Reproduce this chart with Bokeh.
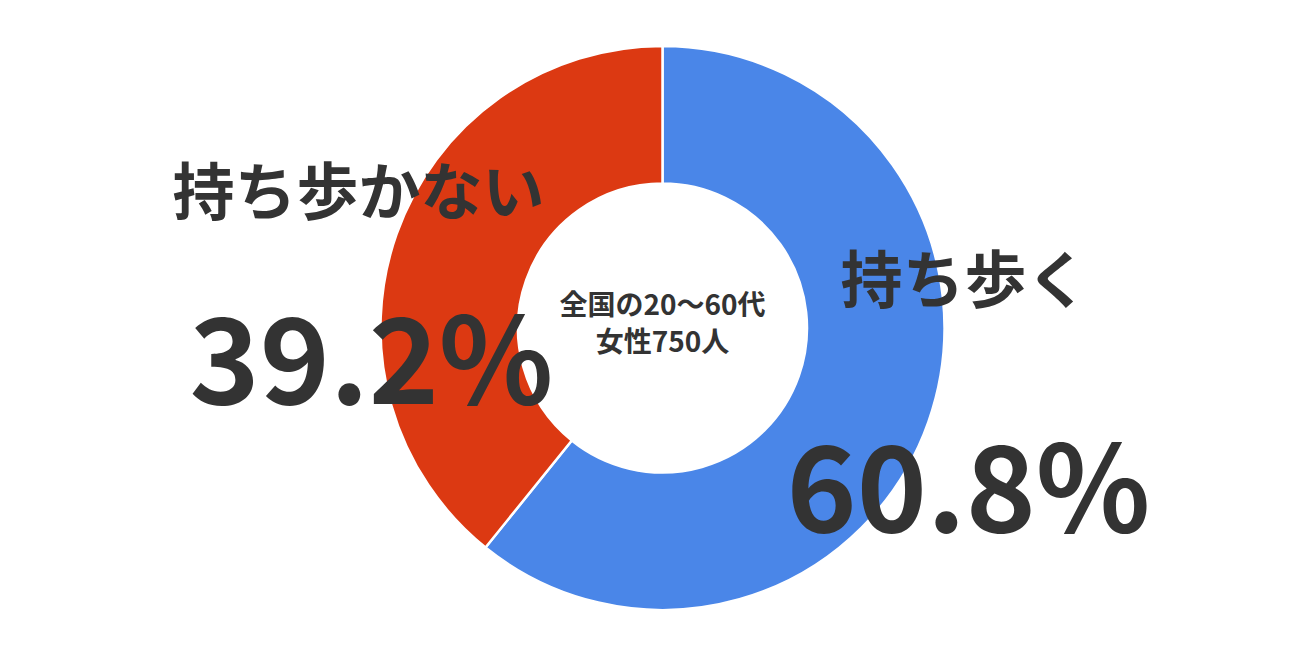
from math import pi
from bokeh.plotting import figure
from bokeh.models import Range1d, ColumnDataSource
from bokeh.core.properties import value
from bokeh.embed import file_html
from bokeh.resources import INLINE

# Data
categories = ["持ち歩く", "持ち歩かない"]
percents = [60.8, 39.2]
colors = ["#4a86e8", "#dc3912"]
center_lines = ["全国の20～60代", "女性750人"]

W, H = 1296, 635
p = figure(width=W, height=H, output_backend="svg", toolbar_location=None,
           x_range=Range1d(0, W), y_range=Range1d(0, H), min_border=0)
p.axis.visible = False
p.grid.visible = False
p.outline_line_color = None
p.background_fill_color = "white"
p.border_fill_color = "white"

def px(x):
    return x

def py(y):
    return H - y

cx, cy = px(662), py(327.5)

# wedges, clockwise from top
starts, ends = [], []
acc = 0.0
for v in percents:
    a0 = pi / 2 - acc / 100 * 2 * pi
    acc += v
    a1 = pi / 2 - acc / 100 * 2 * pi
    starts.append(a0)
    ends.append(a1)

src = ColumnDataSource(dict(start=starts, end=ends, color=colors))
p.annular_wedge(x=cx, y=cy, inner_radius=144.5, outer_radius=282,
                start_angle="start", end_angle="end", direction="clock",
                fill_color="color", line_color="white", line_width=2.5, source=src)

font = value("Noto Sans CJK JP")
dark = "#333333"

# labels
lab_src = ColumnDataSource(dict(
    x=[px(964), px(358)], y=[py(275), py(187)], text=categories))
p.text(x="x", y="y", text="text", source=lab_src, text_font=font,
       text_font_size="62px", text_font_style="bold", text_color=dark,
       text_align="center", text_baseline="middle")

pct_src = ColumnDataSource(dict(
    x=[px(968), px(371)], y=[py(479), py(351)],
    text=[f"{v:.1f}%" for v in percents]))
p.text(x="x", y="y", text="text", source=pct_src, text_font=font,
       text_font_size="119px", text_font_style="bold", text_color=dark,
       text_align="center", text_baseline="middle")

ctr_src = ColumnDataSource(dict(
    x=[cx, cx], y=[py(302), py(339)], text=center_lines))
p.text(x="x", y="y", text="text", source=ctr_src, text_font=font,
       text_font_size="28px", text_font_style="bold", text_color=dark,
       text_align="center", text_baseline="middle")

open("out.html", "w").write(file_html(p, INLINE))
